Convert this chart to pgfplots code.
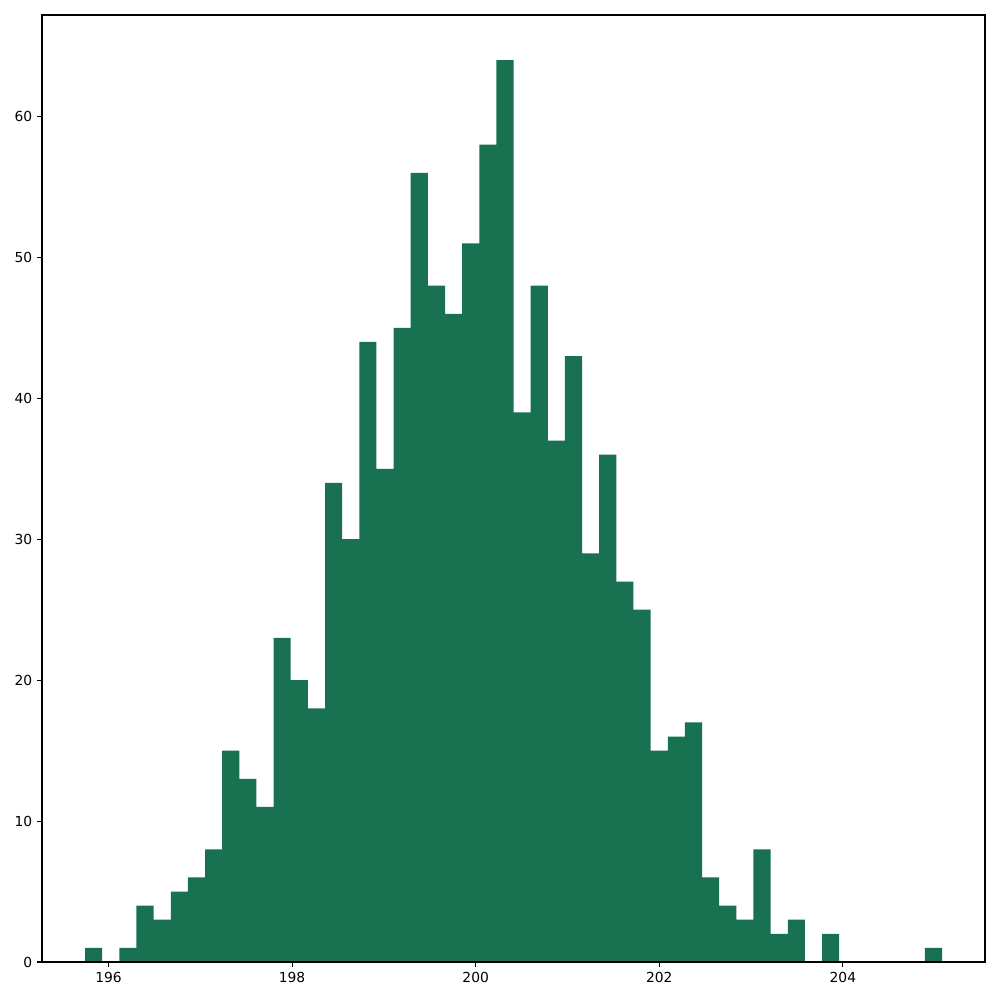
\documentclass[border=0pt]{standalone}
\usepackage{fontspec}
\setmainfont{DejaVu Sans}
\usepackage{pgfplots}
\pgfplotsset{compat=1.18}
\usetikzlibrary{calc}
\definecolor{histgreen}{RGB}{24,113,80}

\begin{document}
\begin{tikzpicture}
\begin{axis}[
  scale only axis,
  width=681.5pt,height=684.4pt,
  xmin=195.276,xmax=205.548,
  ymin=0,ymax=67.2,
  xtick={196,198,200,202,204},
  ytick={0,10,20,30,40,50,60},
  tick align=outside,
  major tick length=3.5pt,
  xtick pos=bottom,ytick pos=left,
  axis line style={line width=0.8pt},
  every tick/.style={black,line width=0.8pt},
  tick label style={font=\fontsize{10}{12}\selectfont},
  /pgf/number format/assume math mode=true,
  /pgf/number format/1000 sep={},
  axis on top]
\addplot[ybar interval,fill=histgreen,draw=none] coordinates {
(195.745,1) (195.932,0) (196.118,1) (196.305,4) (196.492,3)
(196.679,5) (196.865,6) (197.052,8) (197.239,15) (197.425,13)
(197.612,11) (197.799,23) (197.985,20) (198.172,18) (198.359,34)
(198.546,30) (198.732,44) (198.919,35) (199.106,45) (199.292,56)
(199.479,48) (199.666,46) (199.852,51) (200.039,58) (200.226,64)
(200.413,39) (200.599,48) (200.786,37) (200.973,43) (201.159,29)
(201.346,36) (201.533,27) (201.719,25) (201.906,15) (202.093,16)
(202.280,17) (202.466,6) (202.653,4) (202.840,3) (203.026,8)
(203.213,2) (203.400,3) (203.586,0) (203.773,2) (203.960,0)
(204.147,0) (204.333,0) (204.520,0) (204.707,0) (204.893,1)
(205.080,0)};
\end{axis}
\useasboundingbox ($(current axis.south west)+(-30.35pt,-27.46pt)$) rectangle ($(current axis.north east)+(10.84pt,10.84pt)$);
\end{tikzpicture}
\end{document}
